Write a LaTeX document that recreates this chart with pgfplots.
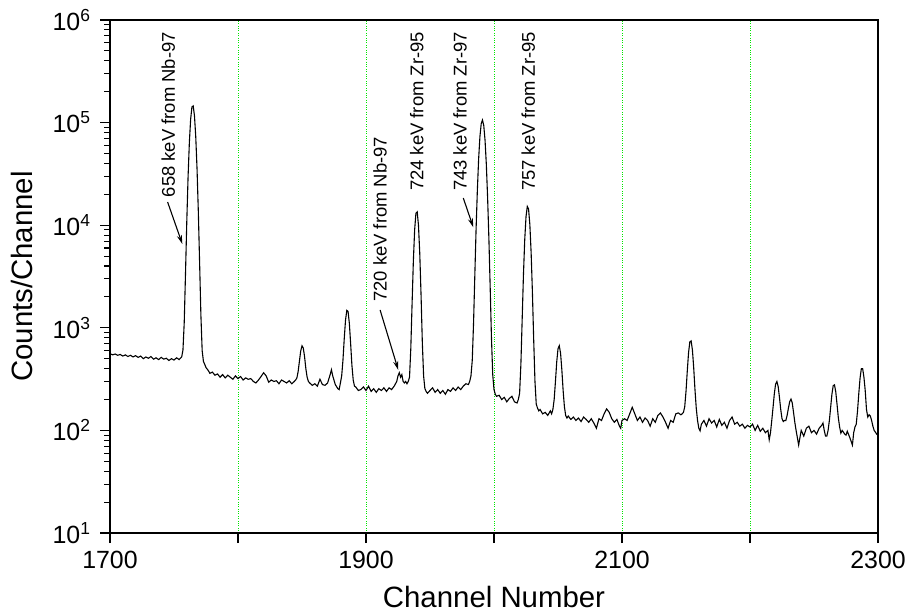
\documentclass[border=0pt]{standalone}
\usepackage{fontspec}
\setmainfont{Liberation Sans}
\usepackage{pgfplots}
\usepackage{pgfplotstable}
\pgfplotsset{compat=1.18}
\usetikzlibrary{arrows.meta}
\definecolor{gridgreen}{RGB}{0,230,0}

\pgfplotstableread{
x y
1700 560
1702 545
1704 555
1706 540
1708 550
1710 530
1712 545
1714 525
1716 540
1718 520
1720 535
1722 515
1724 530
1726 500
1728 520
1730 505
1732 525
1734 495
1736 510
1738 490
1740 515
1742 495
1744 505
1746 480
1748 500
1750 485
1752 510
1754 490
1756 520
1757 608
1758 1137
1759 3435
1760 11000
1761 29800
1762 64100
1763 108000
1764 142000
1765 145500
1766 116300
1767 72500
1768 35350
1769 13600
1770 4330
1771 1340
1772 600
1773 470
1774 440
1775 410
1776 395
1777 380
1778 360
1780 370
1782 345
1784 355
1786 330
1788 350
1790 325
1792 345
1794 330
1796 315
1798 340
1800 320
1802 335
1804 310
1806 325
1808 315
1810 320
1812 300
1814 290
1816 310
1818 335
1820 365
1822 340
1824 295
1826 310
1828 300
1830 305
1832 285
1834 310
1836 300
1838 290
1840 305
1842 285
1844 300
1845 310
1846 324
1847 376
1848 475
1849 596
1850 668
1851 635
1852 524
1853 400
1854 330
1855 300
1856 290
1858 275
1860 285
1862 270
1864 315
1866 280
1868 275
1870 290
1872 350
1873 390
1874 340
1876 280
1878 255
1879 250
1880 290
1881 340
1882 485
1883 786
1884 1189
1885 1480
1886 1440
1887 1100
1888 700
1889 430
1890 310
1891 270
1892 265
1894 245
1896 250
1898 265
1900 245
1902 270
1904 240
1906 255
1908 235
1910 255
1912 245
1914 260
1916 240
1918 260
1920 250
1922 270
1924 300
1925 340
1926 365
1927 330
1928 350
1929 300
1930 290
1931 300
1932 285
1933 300
1934 330
1935 630
1936 1720
1937 4500
1938 9000
1939 13100
1940 13500
1941 9950
1942 5300
1943 2100
1944 720
1945 340
1946 255
1947 240
1948 230
1950 245
1952 260
1954 235
1956 250
1958 230
1960 245
1962 225
1964 250
1966 240
1968 260
1970 245
1972 265
1974 250
1976 270
1978 285
1980 280
1981 300
1982 340
1983 480
1984 1090
1985 3200
1986 9170
1987 22000
1988 44450
1989 73000
1990 97500
1991 106000
1992 93500
1993 67200
1994 39250
1995 18660
1996 7440
1997 2500
1998 810
1999 350
2000 250
2001 225
2002 215
2004 220
2006 200
2008 210
2010 190
2012 205
2014 215
2016 190
2018 185
2019 200
2020 230
2021 440
2022 1200
2023 3280
2024 7210
2025 12070
2026 15200
2027 14350
2028 10150
2029 5420
2030 2230
2031 770
2032 300
2033 180
2034 165
2035 155
2036 160
2038 145
2040 150
2042 140
2044 155
2045 145
2046 160
2047 200
2048 300
2049 465
2050 625
2051 670
2052 565
2053 390
2054 245
2055 170
2056 140
2057 132
2058 138
2060 128
2062 135
2064 125
2066 132
2068 122
2070 135
2072 128
2074 120
2076 130
2078 118
2080 105
2082 130
2084 125
2086 145
2088 162
2090 150
2092 130
2094 120
2096 128
2098 110
2099 105
2100 125
2102 130
2104 125
2106 145
2108 168
2110 145
2112 125
2114 135
2116 120
2118 132
2120 125
2122 110
2124 130
2126 120
2128 140
2130 148
2132 135
2134 120
2136 105
2138 125
2140 120
2142 145
2144 148
2146 142
2147 145
2148 150
2149 170
2150 240
2151 380
2152 575
2153 730
2154 745
2155 610
2156 410
2157 250
2158 165
2159 125
2160 105
2161 99
2162 115
2164 125
2166 110
2168 130
2170 118
2172 125
2174 108
2176 128
2178 112
2180 120
2182 105
2184 125
2186 135
2188 115
2190 120
2192 110
2194 115
2196 105
2198 112
2200 108
2202 115
2204 100
2206 112
2208 98
2210 105
2212 95
2214 100
2215 81
2216 95
2217 125
2218 168
2219 228
2220 283
2221 300
2222 268
2223 210
2224 160
2225 130
2226 122
2227 125
2228 125
2229 140
2230 165
2231 190
2232 202
2233 185
2234 150
2235 120
2236 100
2237 85
2238 72
2239 85
2240 100
2242 88
2244 105
2246 110
2248 95
2250 100
2252 92
2254 105
2256 112
2257 118
2258 100
2259 88
2260 88
2261 100
2262 125
2263 168
2264 226
2265 273
2266 278
2267 237
2268 179
2269 133
2270 108
2271 94
2272 100
2274 92
2275 90
2276 98
2278 85
2280 72
2281 95
2282 108
2283 115
2284 155
2285 230
2286 326
2287 400
2288 400
2289 330
2290 245
2291 160
2292 135
2293 142
2294 138
2295 125
2296 110
2297 100
2298 96
2299 92
2300 95
}\spectrum

\begin{document}
\begin{tikzpicture}
\begin{axis}[
  scale only axis, width=768bp, height=513bp,
  ymode=log, log basis y=10,
  xmin=1700, xmax=2300, ymin=10, ymax=1000000,
  xtick={1700,1800,1900,2000,2100,2200,2300},
  xticklabels={1700,,1900,,2100,,2300},
  ytick={10,100,1000,10000,100000,1000000},
  yticklabels={10\textsuperscript{1},10\textsuperscript{2},10\textsuperscript{3},10\textsuperscript{4},10\textsuperscript{5},10\textsuperscript{6}},
  minor ytick={20,30,40,50,60,70,80,90,200,300,400,500,600,700,800,900,2000,3000,4000,5000,6000,7000,8000,9000,20000,30000,40000,50000,60000,70000,80000,90000,200000,300000,400000,500000,600000,700000,800000,900000},
  tick align=outside, xtick pos=bottom, ytick pos=left,
  major tick length=10bp, minor tick length=6bp,
  xmajorgrids, ymajorgrids=false,
  major x grid style={gridgreen, dotted, line width=0.7bp},
  axis line style={line width=1.3bp},
  every tick/.style={black, line width=1.1bp},
  tick label style={font=\fontsize{25}{30}\selectfont},
  xticklabel style={yshift=-5bp},
  yticklabel style={xshift=-6bp},
  label style={font=\fontsize{29.5}{34}\selectfont},
  xlabel={Channel Number}, ylabel={Counts/Channel},
  xlabel style={at={(axis description cs:0.5,-0.1248)}, anchor=center},
  ylabel style={at={(axis description cs:-0.114,0.5)}, anchor=center},
]
\addplot[black, line width=1.1bp, mark=none] table[x=x, y=y] {\spectrum};

\node[rotate=90, anchor=east, inner sep=0pt, font=\fontsize{18.5}{22}\selectfont] at (axis cs:1745.5,764000) {658 keV from Nb-97};
\node[rotate=90, anchor=east, inner sep=0pt, font=\fontsize{18.5}{22}\selectfont] at (axis cs:1911,72950) {720 keV from Nb-97};
\node[rotate=90, anchor=east, inner sep=0pt, font=\fontsize{18.5}{22}\selectfont] at (axis cs:1939.6,764000) {724 keV from Zr-95};
\node[rotate=90, anchor=east, inner sep=0pt, font=\fontsize{18.5}{22}\selectfont] at (axis cs:1973.4,764000) {743 keV from Zr-97};
\node[rotate=90, anchor=east, inner sep=0pt, font=\fontsize{18.5}{22}\selectfont] at (axis cs:2026.8,764000) {757 keV from Zr-95};

\draw[-{Stealth[length=9bp,width=5bp]}, line width=1.1bp] (axis cs:1745,16830) -- (axis cs:1756.5,6560);
\draw[-{Stealth[length=9bp,width=5bp]}, line width=1.1bp] (axis cs:1911,1493) -- (axis cs:1925.2,388);
\draw[-{Stealth[length=9bp,width=5bp]}, line width=1.1bp] (axis cs:1976,18400) -- (axis cs:1983.8,9550);

\coordinate (bbsw) at (rel axis cs:-0.14323,-0.15789);
\coordinate (bbne) at (rel axis cs:1.04557,1.03899);
\end{axis}
\pgfresetboundingbox
\path (bbsw) rectangle (bbne);
\end{tikzpicture}
\end{document}
